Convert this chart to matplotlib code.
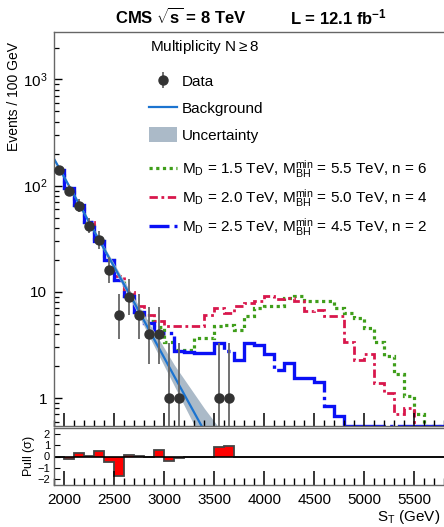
import matplotlib
matplotlib.use("Agg")
import matplotlib.pyplot as plt
import numpy as np
from matplotlib.lines import Line2D
from matplotlib.ticker import MultipleLocator, LogLocator, NullFormatter

plt.rcParams['font.family'] = ['Liberation Sans', 'DejaVu Sans']
plt.rcParams['mathtext.fontset'] = 'custom'
plt.rcParams['mathtext.rm'] = 'Liberation Sans'
plt.rcParams['mathtext.it'] = 'Liberation Sans:italic'
plt.rcParams['mathtext.bf'] = 'Liberation Sans:bold'
plt.rcParams['mathtext.default'] = 'regular'

# 100 GeV bins from 1900 to 5800 GeV
edges = np.arange(1900, 5801, 100)

# data points (bin centres) with asymmetric poisson errors
data_x = [1950, 2050, 2150, 2250, 2350, 2450, 2550, 2650, 2750, 2850, 2950, 3050, 3150, 3550, 3650]
data_y = [141, 90, 65, 42, 31, 16, 6, 9, 6, 4, 4, 1, 1, 1, 1]
data_lo = [11.9, 9.5, 8.0, 6.5, 5.5, 4.0, 2.4, 2.9, 2.4, 1.9, 1.9, 0.83, 0.83, 0.83, 0.83]
data_hi = [12.9, 10.5, 9.1, 7.5, 6.6, 5.1, 3.6, 4.1, 3.6, 3.2, 3.2, 2.3, 2.3, 2.3, 2.3]

# background fit and its uncertainty band
bg_x = [1900, 2300, 2700, 3100, 3400, 3600]
bg_y = [177, 37, 7.9, 1.6, 0.49, 0.22]
band_lo = [172, 35.5, 7.2, 1.3, 0.36, 0.13]
band_hi = [182, 38.5, 8.7, 2.05, 0.8, 0.45]

# signal + background histograms
md15 = [140, 96, 66, 45, 30, 20, 13, 9.1, 6.4,
        5.3, 4.7, 3.35, 2.85, 2.85, 3.68, 3.68, 4.75, 4.9, 4.4, 5.9, 7.1, 7.3, 7.3,
        8.8, 9.1, 8.2, 8.2, 8.2, 7.1, 6.3, 5.7, 4.6, 3.35, 2.5, 1.69, 1.04, 0.71,
        0, 0]
md20 = [140, 96, 66, 45, 30, 20,
        14, 10, 7.4, 6.0, 5.3, 4.8, 4.8, 4.8, 4.8, 6.1, 7.1, 6.3, 7.4, 7.9, 8.2,
        9.1, 8.5, 8.8, 8.2, 6.6, 6.8, 5.9, 5.9, 3.4, 2.3, 2.6, 1.38, 1.11, 0.70, 0.80,
        0, 0, 0]
md25 = [140, 96, 66, 45, 30, 20, 13, 9.1, 6.4, 5.1, 4.1, 4.1, 2.75, 2.7, 2.66,
        2.66, 3.31, 2.75, 2.27, 3.31, 3.19, 2.6, 1.82, 2.14, 1.55, 1.55, 1.42,
        0.84, 0.67, 0, 0, 0, 0, 0, 0, 0, 0, 0, 0]

pull = [0, -0.2, 0.3, 0.05, 0.5, -0.5, -1.7, 0.15, 0.05, -0.05, 0.6, -0.4, -0.1,
        0, 0, 0, 0.8, 0.95] + [0] * 21

ymin, ymax = 0.545, 2800

c_green = '#3f9e1a'
c_red = '#d8174c'
c_blue = '#0a10f5'
c_bg = '#1c74d0'
c_band = '#abbac8'
ls_green = (0, (1, 1.1))
ls_red = (0, (3, 1.3, 1, 1.3))
ls_blue = (0, (25, 1.3, 1, 1.3))

fig = plt.figure(figsize=(4.44, 5.27), dpi=100)
W, H = 444, 527
ax = fig.add_axes([54.3 / W, 1 - 426 / H, 390 / W, 394 / H])
axp = fig.add_axes([54.3 / W, 1 - 485 / H, 390 / W, 57 / H])

ax.set_yscale('log')
ax.set_xlim(1900, 5800)
ax.set_ylim(ymin, ymax)

ax.stairs(np.clip(md15, ymin, None), edges, baseline=None, color=c_green,
          lw=2.3, ls=ls_green)
ax.stairs(np.clip(md20, ymin, None), edges, baseline=None, color=c_red,
          lw=2.0, ls=ls_red)
ax.stairs(np.clip(md25, ymin, None), edges, baseline=None, color=c_blue,
          lw=2.4, ls=ls_blue)

band = ax.fill_between(bg_x, band_lo, band_hi, color=c_band, lw=0)
bgl, = ax.plot(bg_x, bg_y, color=c_bg, lw=1.6)

dat = ax.errorbar(data_x, data_y, yerr=[data_lo, data_hi], fmt='o', color='#333333',
                  ecolor='#666666', elinewidth=1.3, ms=6.5, capsize=0, zorder=5)

for a in (ax, axp):
    a.spines['right'].set_visible(False)
    for s in ('left', 'bottom', 'top'):
        a.spines[s].set_color('#666666')
        a.spines[s].set_linewidth(1.0)

ax.set_yticks([1, 10, 100, 1000])
ax.set_yticklabels(['1', '10', '$10^{2}$', '$10^{3}$'])
ax.yaxis.set_minor_locator(LogLocator(base=10, subs=np.arange(2, 10)))
ax.yaxis.set_minor_formatter(NullFormatter())
ax.xaxis.set_major_locator(MultipleLocator(500))
ax.xaxis.set_minor_locator(MultipleLocator(100))
ax.tick_params(axis='x', which='both', direction='in', labelbottom=False)
ax.tick_params(axis='x', which='major', length=9.5, width=1.1)
ax.tick_params(axis='x', which='minor', length=4.5, width=1.0)
ax.tick_params(axis='y', which='both', direction='in', labelsize=11, pad=5)
ax.tick_params(axis='y', which='major', length=6, width=1.0)
ax.tick_params(axis='y', which='minor', length=3.5, width=0.9)

ax.set_ylabel('Events / 100 GeV', loc='top', fontsize=10)
ax.yaxis.set_label_coords(-0.085, 0.975)

ax.text(0.245, 0.962, 'Multiplicity N$\\geq$8', transform=ax.transAxes,
        fontsize=11, va='center', ha='left')

leg_kw = dict(loc='upper left', frameon=False, fontsize=11, handlelength=1.8,
              handletextpad=0.35, borderpad=0, borderaxespad=0)
leg1 = ax.legend([dat, bgl, band], ['Data', 'Background', 'Uncertainty'],
                 bbox_to_anchor=(0.243, 0.895), labelspacing=0.7,
                 handleheight=1.2, **leg_kw)
ax.add_artist(leg1)
sig_handles = [Line2D([], [], color=c_green, lw=2.3, ls=ls_green),
               Line2D([], [], color=c_red, lw=2.0, ls=ls_red),
               Line2D([], [], color=c_blue, lw=2.4, ls=(0, (6, 1.5, 1, 1.5)))]
sig_labels = ['$M_{D}$ = 1.5 TeV, $M_{BH}^{min}$ = 5.5 TeV, n = 6',
              '$M_{D}$ = 2.0 TeV, $M_{BH}^{min}$ = 5.0 TeV, n = 4',
              '$M_{D}$ = 2.5 TeV, $M_{BH}^{min}$ = 4.5 TeV, n = 2']
ax.legend(sig_handles, sig_labels, bbox_to_anchor=(0.243, 0.68),
          labelspacing=0.45, **leg_kw)

# pull panel
axp.set_xlim(1900, 5800)
axp.set_ylim(-2.5, 2.5)
axp.bar(edges[:-1], pull, width=100, align='edge', color='#ff0000', lw=0)
axp.stairs(pull, edges, baseline=None, color='#444444', lw=1.3)
axp.axhline(0, color='black', lw=1.2)
axp.set_yticks([-2, -1, 0, 1, 2])
axp.xaxis.set_major_locator(MultipleLocator(500))
axp.xaxis.set_minor_locator(MultipleLocator(100))
axp.tick_params(axis='x', which='both', direction='in', labelsize=11, pad=6)
axp.tick_params(axis='x', which='major', length=10, width=1.1)
axp.tick_params(axis='x', which='minor', length=5, width=1.0)
axp.tick_params(axis='y', which='both', direction='in', labelsize=8, length=4, pad=3)
axp.set_ylabel('Pull ($\\sigma$)', fontsize=9)
axp.yaxis.set_label_coords(-0.045, 0.5)
axp.set_xlabel('$S_{T}$ (GeV)', loc='right', fontsize=11)
axp.xaxis.set_label_coords(0.99, -0.4)

fig.text(115 / W, 1 - 17 / H, 'CMS $\\sqrt{\\mathbf{s}}$ = 8 TeV', fontsize=12,
         fontweight='bold', va='center', ha='left')
fig.text(290 / W, 1 - 17 / H, 'L = 12.1 fb$^{\\mathbf{-1}}$', fontsize=12,
         fontweight='bold', va='center', ha='left')

fig.savefig('out.png', dpi=100)
